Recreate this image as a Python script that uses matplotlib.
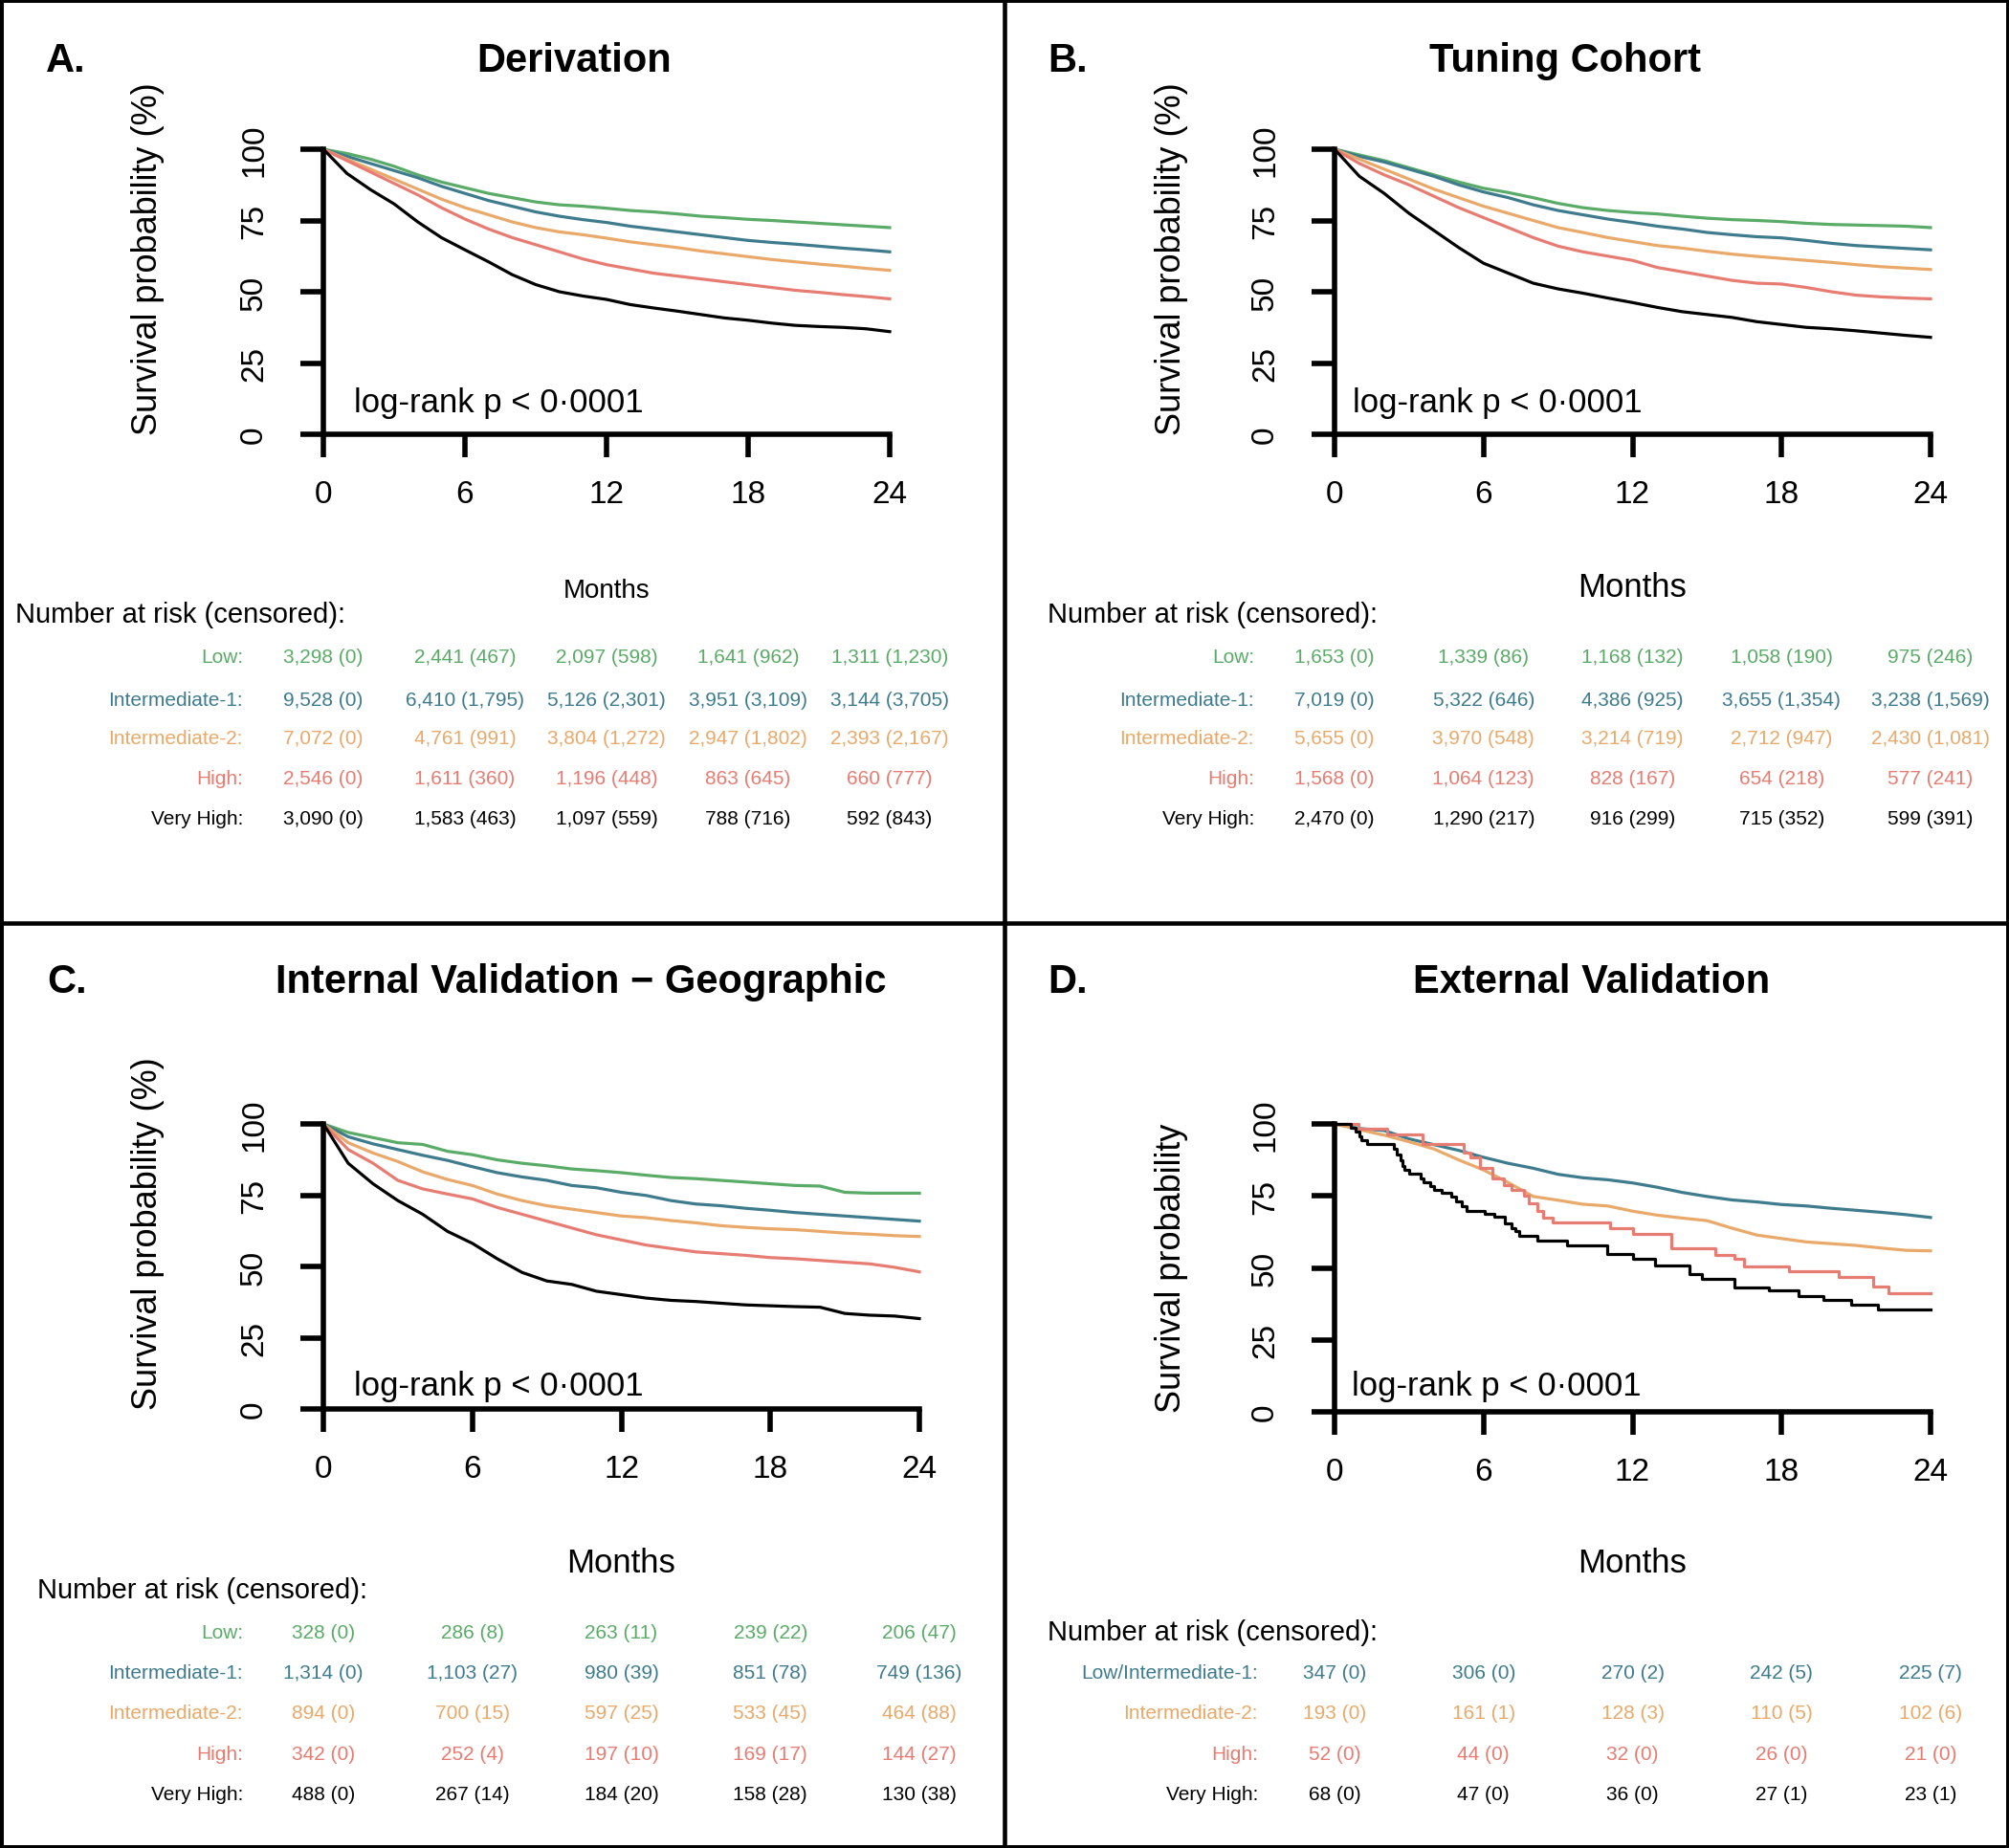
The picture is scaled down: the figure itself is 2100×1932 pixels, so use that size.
import matplotlib
matplotlib.use('Agg')
import matplotlib.pyplot as plt
import matplotlib.transforms as mtransforms
from matplotlib.lines import Line2D
from matplotlib.patches import Rectangle

plt.rcParams['font.family'] = ['Liberation Sans', 'DejaVu Sans']

# ---- data ----
months = list(range(25))
risk_months = [0, 6, 12, 18, 24]

GREEN, BLUE, ORANGE, SALMON, BLACK = '#5aab67', '#3e7b8d', '#e8a96a', '#e67c72', '#000000'

# A. Derivation
A_low = [100, 98.5, 96.5, 94, 91, 88.5, 86.5, 84.5, 83, 81.5, 80.5, 80, 79.3, 78.5, 78, 77.3, 76.5, 76, 75.4, 75, 74.5, 74, 73.5, 73, 72.5]
A_int1 = [100, 97.5, 95, 92.5, 90, 87, 84.5, 82, 80, 78, 76.5, 75.3, 74.3, 73, 72, 71, 70, 69, 68, 67.3, 66.7, 66, 65.3, 64.7, 64]
A_int2 = [100, 96.5, 93, 89.5, 86, 82.5, 79.5, 77, 74.5, 72.5, 71, 70, 68.8, 67.5, 66.5, 65.5, 64.3, 63.3, 62.3, 61.3, 60.5, 59.7, 59, 58.2, 57.5]
A_high = [100, 96, 92, 88, 84, 79.5, 75.5, 72, 69, 66.5, 64, 61.5, 59.5, 58, 56.5, 55.5, 54.5, 53.5, 52.5, 51.5, 50.5, 49.8, 49, 48.3, 47.5]
A_vhigh = [100, 91.5, 85.8, 80.8, 74.5, 69, 64.7, 60.5, 56, 52.5, 50, 48.5, 47.3, 45.5, 44.3, 43.2, 42, 40.8, 40, 39, 38.2, 37.8, 37.5, 37, 36]

# B. Tuning Cohort
B_low = [100, 98, 96, 93.5, 91, 88.5, 86.3, 84.8, 83, 81, 79.5, 78.5, 77.8, 77.3, 76.5, 75.8, 75.3, 75, 74.6, 74, 73.6, 73.4, 73.2, 73, 72.5]
B_int1 = [100, 97.5, 95.5, 93, 90.5, 87.5, 85, 83, 80.5, 78.5, 77, 75.5, 74.3, 73, 72, 70.8, 70, 69.3, 68.9, 68, 67, 66.2, 65.7, 65.2, 64.7]
B_int2 = [100, 96.5, 93, 89.5, 86, 83, 80, 77.5, 75, 72.5, 70.8, 69, 67.6, 66.2, 65.3, 64.2, 63.2, 62.4, 61.7, 61, 60.3, 59.5, 58.8, 58.3, 57.8]
B_high = [100, 95, 91, 87.5, 83.5, 79.5, 76, 72.5, 69, 66, 64, 62.5, 61, 58.5, 57, 55.5, 54, 53, 52.7, 51.5, 50, 48.8, 48.2, 47.8, 47.5]
B_vhigh = [100, 90.5, 84.5, 77.5, 71.5, 65.5, 60, 56.5, 53, 51, 49.5, 47.8, 46.2, 44.5, 43, 42, 41, 39.5, 38.5, 37.5, 37, 36.3, 35.5, 34.7, 34]

# C. Internal Validation - Geographic
C_low = [100, 97, 95.2, 93.4, 92.8, 90.4, 89.2, 87.4, 86.2, 85.3, 84.2, 83.6, 82.9, 82, 81.2, 80.8, 80.2, 79.6, 79, 78.4, 78.2, 76, 75.7, 75.7, 75.7]
C_int1 = [100, 95.5, 93, 91, 89, 87.2, 85, 82.9, 81.4, 80.2, 78.4, 77.6, 76, 74.9, 73.1, 71.9, 71.3, 70.4, 69.7, 68.9, 68.3, 67.7, 67.1, 66.5, 65.9]
C_int2 = [100, 93.4, 89.8, 86.8, 83.2, 80.5, 78.4, 75.4, 73.1, 71.3, 70.1, 68.9, 67.7, 67.1, 66.1, 65.3, 64.3, 63.7, 63.2, 62.9, 62.3, 61.7, 61.3, 60.8, 60.5]
C_high = [100, 91, 86.2, 80.2, 77.2, 75.4, 73.7, 70.7, 68.3, 65.9, 63.5, 61.1, 59.3, 57.5, 56.3, 55.1, 54.5, 53.9, 53.1, 52.7, 52.1, 51.5, 50.9, 49.7, 48.1]
C_vhigh = [100, 86.2, 79, 73.1, 68.3, 62.3, 58.1, 52.7, 47.9, 44.9, 43.7, 41.3, 40.1, 38.9, 38.1, 37.7, 37.1, 36.5, 36.2, 35.9, 35.7, 33.5, 32.9, 32.6, 31.7]

# D. External Validation
D_lowint1 = [100, 98.4, 97.7, 94.8, 92.8, 90.8, 88.4, 86.3, 84.6, 82.5, 81.3, 80.6, 79.5, 78, 76.2, 74.8, 73.6, 72.9, 72, 71.5, 70.7, 70, 69.3, 68.5, 67.5]
D_int2 = [100, 98, 96.1, 93.8, 91.3, 87.5, 84, 79.6, 74.8, 73.5, 72.1, 71.5, 69.7, 68.3, 67.3, 66.4, 63.8, 61.4, 60.2, 59, 58.4, 57.8, 56.9, 56.1, 55.9]
D_high_t = [0, 0.96, 2.1, 3.53, 5.2, 5.46, 5.84, 6.36, 6.8, 7.12, 7.64, 7.83, 8.15, 8.41, 8.8, 11.1, 12.0, 13.55, 15.35, 16.1, 16.5, 18.3, 20.3, 21.7, 22.3, 24]
D_high_s = [100, 98.4, 96.5, 93.1, 90.0, 88.5, 84.6, 80.9, 78.8, 77.0, 75.2, 72.5, 69.9, 67.5, 65.8, 63.8, 61.7, 56.8, 54.6, 53.0, 50.5, 48.9, 47.0, 43.4, 41.2, 41.2]
D_vhigh_t = [0, 0.64, 0.85, 1.0, 1.09, 1.3, 2.38, 2.5, 2.65, 2.75, 2.83, 3.02, 3.47, 3.6, 3.85, 4.0, 4.3, 4.69, 4.9, 5.14, 5.33, 6.03, 6.42, 6.87, 7.12, 7.3, 7.45, 8.15, 9.37, 10.97, 12.0, 12.9, 14.3, 14.8, 16.1, 17.5, 18.7, 19.7, 20.8, 21.9, 24]
D_vhigh_s = [100, 98.7, 97.2, 95.6, 94.2, 93.1, 91.5, 89.5, 87.5, 85.5, 84.0, 82.6, 81.0, 79.8, 78.5, 77.1, 76.0, 74.6, 73.2, 71.5, 69.9, 68.8, 67.7, 65.4, 63.8, 62.7, 61.0, 59.4, 57.8, 54.9, 53.1, 50.7, 47.7, 46.2, 43.3, 42.2, 40.3, 38.8, 37.1, 35.5, 35.5]

# number at risk / censored
five_labels = ['Low', 'Intermediate-1', 'Intermediate-2', 'High', 'Very High']
five_colors = [GREEN, BLUE, ORANGE, SALMON, BLACK]

A_at_risk = [[3298, 2441, 2097, 1641, 1311], [9528, 6410, 5126, 3951, 3144],
             [7072, 4761, 3804, 2947, 2393], [2546, 1611, 1196, 863, 660], [3090, 1583, 1097, 788, 592]]
A_censored = [[0, 467, 598, 962, 1230], [0, 1795, 2301, 3109, 3705],
              [0, 991, 1272, 1802, 2167], [0, 360, 448, 645, 777], [0, 463, 559, 716, 843]]
B_at_risk = [[1653, 1339, 1168, 1058, 975], [7019, 5322, 4386, 3655, 3238],
             [5655, 3970, 3214, 2712, 2430], [1568, 1064, 828, 654, 577], [2470, 1290, 916, 715, 599]]
B_censored = [[0, 86, 132, 190, 246], [0, 646, 925, 1354, 1569],
              [0, 548, 719, 947, 1081], [0, 123, 167, 218, 241], [0, 217, 299, 352, 391]]
C_at_risk = [[328, 286, 263, 239, 206], [1314, 1103, 980, 851, 749],
             [894, 700, 597, 533, 464], [342, 252, 197, 169, 144], [488, 267, 184, 158, 130]]
C_censored = [[0, 8, 11, 22, 47], [0, 27, 39, 78, 136],
              [0, 15, 25, 45, 88], [0, 4, 10, 17, 27], [0, 14, 20, 28, 38]]
D_labels = ['Low/Intermediate-1', 'Intermediate-2', 'High', 'Very High']
D_colors = [BLUE, ORANGE, SALMON, BLACK]
D_at_risk = [[347, 306, 270, 242, 225], [193, 161, 128, 110, 102], [52, 44, 32, 26, 21], [68, 47, 36, 27, 23]]
D_censored = [[0, 0, 2, 5, 7], [0, 1, 3, 5, 6], [0, 0, 0, 0, 0], [0, 0, 0, 1, 1]]

# ---- figure ----
W, H = 2100, 1933
fig = plt.figure(figsize=(W / 100, H / 100), dpi=100)


def fx(px):
    return px / W


def fy(py):
    return 1 - py / H


def make_axes(l, t, r, b):
    ax = fig.add_axes([fx(l), fy(b), (r - l) / W, (b - t) / H])
    ax.set_xlim(0, 24)
    ax.set_ylim(0, 100)
    ax.patch.set_alpha(0)
    for s in ['top', 'right']:
        ax.spines[s].set_visible(False)
    for s in ['left', 'bottom']:
        ax.spines[s].set_linewidth(4)
    ax.spines['left'].set_bounds(0, 100)
    ax.spines['bottom'].set_bounds(0, 24)
    ax.set_xticks(risk_months)
    ax.set_yticks([0, 25, 50, 75, 100])
    ax.tick_params(length=17, width=4, labelsize=24)
    ax.tick_params(axis='x', pad=17)
    ax.tick_params(axis='y', labelrotation=90, pad=24)
    for lbl in ax.get_yticklabels():
        lbl.set_va('center')
    return ax


def curve(ax, x, y, color, step=False):
    if step:
        ax.step(x, y, where='post', color=color, lw=2.3, clip_on=False)
    else:
        ax.plot(x, y, color=color, lw=2.3, clip_on=False)


def risk_table(ax, labels, colors, at_risk, censored, rows_y, label_right):
    trans = mtransforms.blended_transform_factory(ax.transData, fig.transFigure)
    for label, color, n, c, y in zip(labels, colors, at_risk, censored, rows_y):
        fig.text(fx(label_right), fy(y), label + ':', ha='right', va='center',
                 color=color, fontsize=15)
        for m, ni, ci in zip(risk_months, n, c):
            ax.text(m, fy(y), f'{ni:,} ({ci:,})', transform=trans, ha='center',
                    va='center', color=color, fontsize=15, clip_on=False)


def panel_text(ax, letter, letter_xy, title, title_xy, ylabel, ylabel_x, y0_px,
               logrank_xy, months_y, months_size, nar_xy):
    fig.text(fx(letter_xy[0]), fy(letter_xy[1]), letter, ha='left', va='center',
             fontsize=30, fontweight='bold')
    fig.text(fx(title_xy[0]), fy(title_xy[1]), title, ha='center', va='center',
             fontsize=30, fontweight='bold')
    fig.text(fx(ylabel_x), fy(y0_px), ylabel, rotation=90, ha='center', va='bottom',
             fontsize=26)
    fig.text(fx(logrank_xy[0]), fy(logrank_xy[1]), 'log-rank p < 0\u00b70001',
             ha='left', va='center', fontsize=25)
    trans = mtransforms.blended_transform_factory(ax.transData, fig.transFigure)
    ax.text(12, fy(months_y), 'Months', transform=trans, ha='center', va='center',
            fontsize=months_size, clip_on=False)
    fig.text(fx(nar_xy[0]), fy(nar_xy[1]), 'Number at risk (censored):', ha='left',
             va='center', fontsize=21)


# Panel A
axA = make_axes(338, 157, 930, 455)
for s, col in zip([A_low, A_int1, A_int2, A_high, A_vhigh], five_colors):
    curve(axA, months, s, col)
panel_text(axA, 'A.', (48, 64), 'Derivation', (600, 64), 'Survival probability (%)',
           154, 455, (370, 421), 618, 20, (16, 643))
risk_table(axA, five_labels, five_colors, A_at_risk, A_censored,
           [688, 732, 773, 815, 857], 254)

# Panel B
axB = make_axes(1395, 157, 2018, 455)
for s, col in zip([B_low, B_int1, B_int2, B_high, B_vhigh], five_colors):
    curve(axB, months, s, col)
panel_text(axB, 'B.', (1095, 64), 'Tuning Cohort', (1636, 64), 'Survival probability (%)',
           1224, 455, (1414, 421), 615, 25, (1095, 643))
risk_table(axB, five_labels, five_colors, B_at_risk, B_censored,
           [688, 732, 773, 815, 857], 1311)

# Panel C
axC = make_axes(338, 1176, 961, 1474)
for s, col in zip([C_low, C_int1, C_int2, C_high, C_vhigh], five_colors):
    curve(axC, months, s, col)
panel_text(axC, 'C.', (49, 1027), 'Internal Validation \u2212 Geographic', (607, 1027),
           'Survival probability (%)', 155, 1474, (370, 1450), 1635, 25, (39, 1663))
risk_table(axC, five_labels, five_colors, C_at_risk, C_censored,
           [1708, 1750, 1792, 1835, 1877], 254)

# Panel D
axD = make_axes(1395, 1176, 2018, 1477)
curve(axD, months, D_lowint1, BLUE)
curve(axD, months, D_int2, ORANGE)
curve(axD, D_high_t, D_high_s, SALMON, step=True)
curve(axD, D_vhigh_t, D_vhigh_s, BLACK, step=True)
panel_text(axD, 'D.', (1095, 1027), 'External Validation', (1664, 1027),
           'Survival probability', 1225, 1477, (1413, 1450), 1635, 25, (1095, 1707))
risk_table(axD, D_labels, D_colors, D_at_risk, D_censored,
           [1750, 1792, 1835, 1877], 1315)

# panel dividers and outer frame
fig.add_artist(Line2D([fx(1050), fx(1050)], [0, 1], transform=fig.transFigure,
                      color='black', lw=3.3))
fig.add_artist(Line2D([0, 1], [fy(966), fy(966)], transform=fig.transFigure,
                      color='black', lw=3.3))
fig.add_artist(Rectangle((0, 0), 1, 1, transform=fig.transFigure, fill=False,
                         edgecolor='black', lw=5))

fig.savefig('out.png', dpi=100, facecolor='white')
